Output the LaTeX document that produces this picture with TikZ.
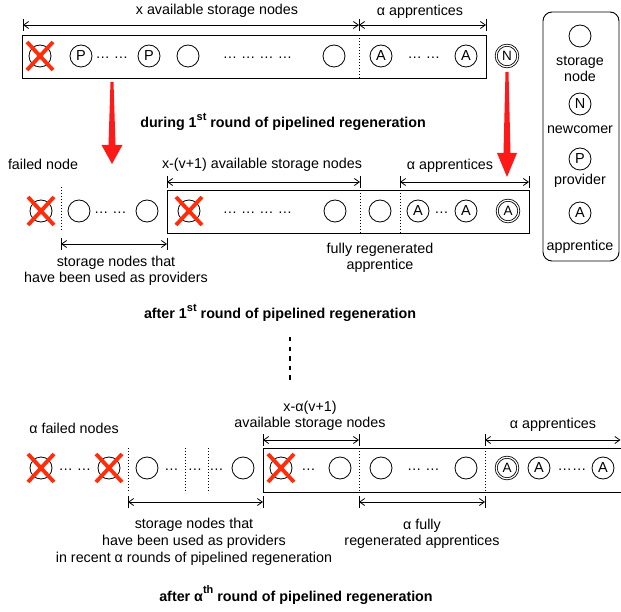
\documentclass[tikz,border=0pt]{standalone}
\usepackage{fontspec}
\setmainfont{Liberation Sans}
\usetikzlibrary{arrows.meta}
\definecolor{xred}{RGB}{255,45,10}
\definecolor{ared}{RGB}{255,25,25}
\newcommand\mysup[1]{\raisebox{0.5em}{\fontsize{11}{11}\selectfont #1}}
\begin{document}
\begin{tikzpicture}[x=1pt,y=-1pt,
  font=\fontsize{14.3}{16}\selectfont,
  snode/.style={circle,draw,line width=0.8pt,minimum size=22pt,inner sep=0pt,font=\fontsize{14.5}{14.5}\selectfont},
  dnode/.style={snode,double,double distance=1.2pt,minimum size=21.6pt,font=\fontsize{13.5}{13.5}\selectfont},
  xcross/.style={draw=xred,line width=3.8pt},
  box/.style={draw,line width=0.9pt},
  sepline/.style={line width=0.9pt,dash pattern=on 1pt off 2pt},
  dimline/.style={line width=0.8pt,{Straight Barb[length=5pt,width=7pt]}-{Straight Barb[length=5pt,width=7pt]}},
  tickline/.style={line width=0.8pt},
  dotsnode/.style={inner sep=0pt},
  lbl/.style={inner sep=0pt,anchor=base},
  ttl/.style={inner sep=0pt,anchor=base,font=\bfseries\fontsize{14.3}{16}\selectfont},
]
\useasboundingbox (0,0) rectangle (621,612);

% ---------------- Row 1 ----------------
\draw[box] (22,35) rectangle (486,78);
\node[snode] (r1f) at (40,56) {};
\draw[xcross] (r1f.center) ++(-13,-14) -- ++(26,28) (r1f.center) ++(13,-14) -- ++(-26,28);
\node[snode] (r1p1) at (81,56) {P};
\node[dotsnode] (r1d1) at (112,58) {… …};
\node[snode] (r1p2) at (149,56) {P};
\node[snode] (r1c1) at (188,56) {};
\node[dotsnode] (r1d2) at (257.5,58) {… … … …};
\node[snode] (r1c2) at (334,56) {};
\coordinate (r1s1) at (359,35); \coordinate (r1s2) at (359,78);
\draw[sepline] (r1s1) -- (r1s2);
\node[snode] (r1a1) at (381,56) {A};
\node[dotsnode] (r1d3) at (424,58) {… …};
\node[snode] (r1a2) at (466,56) {A};
\node[dnode] (r1n) at (507,56) {N};

\coordinate (t1a) at (23,25); \coordinate (t1b) at (359,25); \coordinate (t1c) at (486,25);
\draw[dimline] (t1a) -- (t1b);
\draw[dimline] (t1b) -- (t1c);
\foreach \p in {t1a,t1b,t1c} \draw[tickline] (\p) ++(0,-6) -- ++(0,12);
\node[lbl] (l1x) at (217,15) {x available storage nodes};
\node[lbl] (l1a) at (420,15.5) {α apprentices};

% red arrows
\fill[ared] (110.5,82) -- (113.5,82) -- (115.5,145) -- (122.5,145) -- (112,164) -- (101.5,145) -- (108.5,145) -- cycle;
\fill[ared] (505.5,72) -- (508.5,72) -- (510.5,153) -- (517,153) -- (507,177) -- (497,153) -- (503.5,153) -- cycle;

\node[ttl] (title1) at (283,128) {during 1\mysup{st} round of pipelined regeneration};

% ---------------- Legend ----------------
\draw[box,rounded corners=9pt] (543,12) rectangle (619,261);
\node[snode] (lgS) at (580,36) {};
\node[lbl] (lgS1) at (580,66) {storage};
\node[lbl] (lgS2) at (580,82) {node};
\node[snode] (lgN) at (580,104) {N};
\node[lbl] (lgN1) at (580,134) {newcomer};
\node[snode] (lgP) at (580,159) {P};
\node[lbl] (lgP1) at (580,185) {provider};
\node[snode] (lgA) at (580,213) {A};
\node[lbl] (lgA1) at (580,251) {apprentice};

% ---------------- Row 2 ----------------
\node[lbl] (l2f) at (43,170) {failed node};
\node[snode] (r2f) at (41,211) {};
\draw[xcross] (r2f.center) ++(-13,-14) -- ++(26,28) (r2f.center) ++(13,-14) -- ++(-26,28);
\coordinate (r2s0a) at (61,187); \coordinate (r2s0b) at (61,230);
\draw[sepline] (r2s0a) -- (r2s0b);
\node[snode] (r2c1) at (79,211) {};
\node[dotsnode] (r2d1) at (110.5,213) {… …};
\node[snode] (r2c2) at (147,211) {};
\draw[box] (167,190) rectangle (529,233);
\node[snode] (r2f2) at (189,211) {};
\draw[xcross] (r2f2.center) ++(-13,-14) -- ++(26,28) (r2f2.center) ++(13,-14) -- ++(-26,28);
\node[dotsnode] (r2d2) at (257.5,213) {… … … …};
\node[snode] (r2c3) at (335,211) {};
\coordinate (r2s1a) at (360,190); \coordinate (r2s1b) at (360,233);
\draw[sepline] (r2s1a) -- (r2s1b);
\node[snode] (r2c4) at (380,211) {};
\coordinate (r2s2a) at (400,190); \coordinate (r2s2b) at (400,233);
\draw[sepline] (r2s2a) -- (r2s2b);
\node[snode] (r2a1) at (418,211) {A};
\node[dotsnode] (r2d3) at (441.5,213) {…};
\node[snode] (r2a2) at (466,211) {A};
\node[dnode] (r2a3) at (508,211) {A};

\coordinate (t2a) at (167,182); \coordinate (t2b) at (360,182);
\coordinate (t2c) at (400,182); \coordinate (t2d) at (529,182);
\draw[dimline] (t2a) -- (t2b);
\draw[dimline] (t2c) -- (t2d);
\foreach \p in {t2a,t2b,t2c,t2d} \draw[tickline] (\p) ++(0,-6) -- ++(0,12);
\node[lbl] (l2x) at (262,169) {x-(v+1) available storage nodes};
\node[lbl] (l2a) at (450,170) {α apprentices};

\coordinate (b2a) at (61,244); \coordinate (b2b) at (167,244);
\draw[dimline] (b2a) -- (b2b);
\foreach \p in {b2a,b2b} \draw[tickline] (\p) ++(0,-6) -- ++(0,12);
\node[lbl] (l2p1) at (116,267) {storage nodes that};
\node[lbl] (l2p2) at (116,283) {have been used as providers};
\node[lbl] (l2r1) at (380,254) {fully regenerated};
\node[lbl] (l2r2) at (380,270) {apprentice};

\node[ttl] (title2) at (280,319) {after 1\mysup{st} round of pipelined regeneration};

% vertical ellipsis
\coordinate (vd1) at (290,337); \coordinate (vd2) at (290,380);
\draw[line width=2pt,dash pattern=on 4.3pt off 5.3pt] (vd1) -- (vd2);

% ---------------- Row 3 ----------------
\node[lbl] (l3f) at (74,433) {α failed nodes};
\node[snode] (r3f1) at (41,468) {};
\draw[xcross] (r3f1.center) ++(-13,-14) -- ++(26,28) (r3f1.center) ++(13,-14) -- ++(-26,28);
\node[dotsnode] (r3d1) at (75,470) {… …};
\node[snode] (r3f2) at (109,468) {};
\draw[xcross] (r3f2.center) ++(-13,-14) -- ++(26,28) (r3f2.center) ++(13,-14) -- ++(-26,28);
\coordinate (r3s1a) at (128,448); \coordinate (r3s1b) at (128,493);
\draw[sepline] (r3s1a) -- (r3s1b);
\node[snode] (r3c1) at (147,468) {};
\node[dotsnode] (r3d2) at (171.5,470) {…};
\coordinate (r3s2a) at (185,448); \coordinate (r3s2b) at (185,493);
\draw[sepline] (r3s2a) -- (r3s2b);
\node[dotsnode] (r3d3) at (195,470) {…};
\coordinate (r3s3a) at (208,448); \coordinate (r3s3b) at (208,493);
\draw[sepline] (r3s3a) -- (r3s3b);
\node[dotsnode] (r3d4) at (216.5,470) {…};
\node[snode] (r3c2) at (243,468) {};

\draw[box] (621,448) -- (263,448) -- (263,492) -- (621,492);
\node[snode] (r3f3) at (281,468) {};
\draw[xcross] (r3f3.center) ++(-13,-14) -- ++(26,28) (r3f3.center) ++(13,-14) -- ++(-26,28);
\node[dotsnode] (r3d5) at (308.5,470) {…};
\node[snode] (r3c3) at (340,468) {};
\coordinate (r3s4a) at (359,448); \coordinate (r3s4b) at (359,492);
\draw[sepline] (r3s4a) -- (r3s4b);
\node[snode] (r3c4) at (381,468) {};
\node[dotsnode] (r3d6) at (423.5,470) {… …};
\node[snode] (r3c5) at (466,468) {};
\coordinate (r3s5a) at (485,448); \coordinate (r3s5b) at (485,492);
\draw[sepline] (r3s5a) -- (r3s5b);
\node[dnode] (r3a1) at (507,468) {A};
\node[snode] (r3a2) at (539,468) {A};
\node[dotsnode] (r3d7) at (572,470) {……};
\node[snode] (r3a3) at (603,468) {A};

\coordinate (t3a) at (263,440); \coordinate (t3b) at (359,440);
\coordinate (t3c) at (485,440); \coordinate (t3d) at (620.5,440);
\draw[dimline] (t3a) -- (t3b);
\draw[dimline] (t3c) -- (t3d);
\foreach \p in {t3a,t3b,t3c} \draw[tickline] (\p) ++(0,-6) -- ++(0,12);
\node[lbl] (l3x1) at (310,411) {x-α(v+1)};
\node[lbl] (l3x2) at (310,427) {available storage nodes};
\node[lbl] (l3a) at (553,428) {α apprentices};

\coordinate (b3a) at (128,502); \coordinate (b3b) at (263,502);
\coordinate (b3c) at (359,502); \coordinate (b3d) at (485,502);
\draw[dimline] (b3a) -- (b3b);
\draw[dimline] (b3c) -- (b3d);
\foreach \p in {b3a,b3b,b3c,b3d} \draw[tickline] (\p) ++(0,-6) -- ++(0,12);
\node[lbl] (l3p1) at (194,528) {storage nodes that};
\node[lbl] (l3p2) at (194,545) {have been used as providers};
\node[lbl] (l3p3) at (194,562) {in recent α rounds of pipelined regeneration};
\node[lbl] (l3r1) at (422,529) {α fully};
\node[lbl] (l3r2) at (422,545) {regenerated apprentices};

\node[ttl] (title3) at (296,601) {after α\mysup{th} round of pipelined regeneration};
\end{tikzpicture}
\end{document}
